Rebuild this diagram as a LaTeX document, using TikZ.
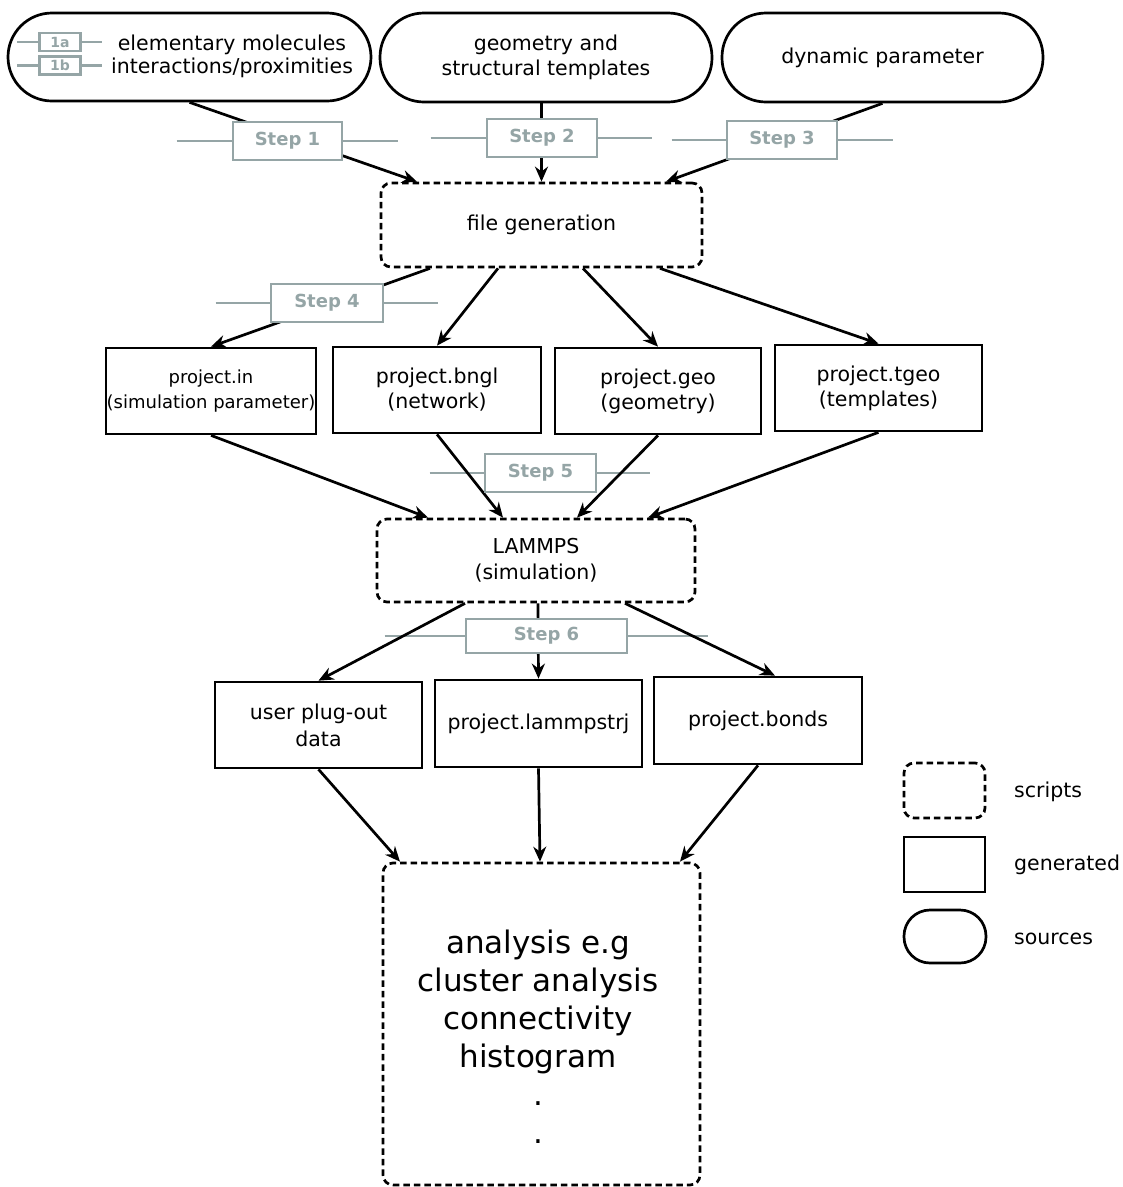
\documentclass[tikz,border=0pt]{standalone}
\usepackage{fontspec}
\setmainfont{DejaVu Sans}
\usetikzlibrary{arrows.meta,calc}
\definecolor{stepgray}{RGB}{149,165,166}
\pgfdeclarelayer{bglayer}
\pgfdeclarelayer{glines}
\pgfdeclarelayer{arrowlayer}
\pgfsetlayers{bglayer,glines,arrowlayer,main}
\begin{document}
\begin{tikzpicture}[x=1pt,y=-1pt,
  src/.style={draw,line width=2.7pt,inner sep=0pt,align=center,rounded corners=44pt,font=\fontsize{20.5}{24.5}\selectfont},
  gen/.style={draw,line width=2.7pt,inner sep=0pt,align=center,font=\fontsize{20.5}{25}\selectfont},
  scr/.style={draw,line width=2.7pt,dash pattern=on 6.5pt off 4pt,rounded corners=10pt,inner sep=0pt,align=center,font=\fontsize{20.5}{26}\selectfont},
  stepbox/.style={draw=stepgray,line width=2.6pt,fill=white,inner sep=0pt,text=stepgray,font=\bfseries\fontsize{18}{20}\selectfont},
  tagbox/.style={draw=stepgray,line width=2.4pt,fill=white,inner sep=0pt,text=stepgray,font=\bfseries\fontsize{14}{15}\selectfont,minimum width=41pt,minimum height=18pt},
  gl/.style={draw=stepgray,line width=2.6pt},
  arr/.style={-{Stealth[length=15pt,width=13pt]},line width=2.7pt},
  txt/.style={inner sep=0pt,align=center,font=\fontsize{20.5}{23}\selectfont},
  legtxt/.style={inner sep=0pt,anchor=west,font=\fontsize{20.5}{24}\selectfont}
]
\useasboundingbox (0,0) rectangle (1123,1187);
\begin{pgfonlayer}{bglayer}
\fill[white] (0,0) rectangle (1123,1187);
\end{pgfonlayer}

% sources
\node[src,minimum width=363pt,minimum height=88pt] (s1) at (189.5,57) {};
\node[txt] (s1t) at (232,56.5) {elementary molecules\\interactions/proximities};
\node[tagbox] (t1a) at (60,42) {1a};
\node[tagbox] (t1b) at (60,65.5) {1b};
\node[src,minimum width=332pt,minimum height=89pt] (s2) at (546,57.5) {geometry and\\structural templates};
\node[src,minimum width=321pt,minimum height=89pt] (s3) at (882.5,57.5) {dynamic parameter};

% scripts
\node[scr,minimum width=321pt,minimum height=84pt] (fg) at (541.5,225) {file generation};
\node[scr,minimum width=318pt,minimum height=83pt] (lmp) at (536,560.5) {LAMMPS\\(simulation)};
\node[scr,minimum width=317pt,minimum height=322pt] (ana) at (541.5,1024) {};
\node[inner sep=0pt,align=center,font=\fontsize{31}{38}\selectfont] (atext) at (538,1037) {analysis e.g\\cluster analysis\\connectivity\\histogram\\.\\.};

% generated
\node[gen,minimum width=210pt,minimum height=86pt,font=\fontsize{18}{25}\selectfont] (pin) at (211,391) {project.in\\(simulation parameter)};
\node[gen,minimum width=208pt,minimum height=86pt] (bngl) at (437,390) {project.bngl\\(network)};
\node[gen,minimum width=206pt,minimum height=86pt] (geo) at (658,391) {project.geo\\(geometry)};
\node[gen,minimum width=207pt,minimum height=86pt] (tgeo) at (878.5,388) {project.tgeo\\(templates)};
\node[gen,minimum width=207pt,minimum height=86pt,font=\fontsize{20.5}{27}\selectfont] (user) at (318.5,725) {user plug-out\\data};
\node[gen,minimum width=207pt,minimum height=87pt] (traj) at (538.5,723.5) {project.lammpstrj};
\node[gen,minimum width=208pt,minimum height=87pt] (bonds) at (758,720.5) {project.bonds};

% steps
\node[stepbox,minimum width=109pt,minimum height=38pt] (st1) at (287.5,141) {Step 1};
\node[stepbox,minimum width=110pt,minimum height=38pt] (st2) at (542,138) {Step 2};
\node[stepbox,minimum width=110pt,minimum height=38pt] (st3) at (782,140) {Step 3};
\node[stepbox,minimum width=112pt,minimum height=38pt] (st4) at (327,303) {Step 4};
\node[stepbox,minimum width=111pt,minimum height=38pt] (st5) at (540.5,473) {Step 5};
\node[stepbox,minimum width=161pt,minimum height=34pt] (st6) at (546.5,636) {Step 6};

% legend
\node[scr,minimum width=81pt,minimum height=55pt] (lsc) at (944.5,790.5) {};
\node[legtxt] (lsct) at (1014,792) {scripts};
\node[gen,minimum width=81pt,minimum height=55pt] (lgen) at (944.5,864.5) {};
\node[legtxt] (lgent) at (1014,865) {generated};
\node[src,rounded corners=26pt,minimum width=82pt,minimum height=53pt] (lsrc) at (945,936.5) {};
\node[legtxt] (lsrct) at (1014,939) {sources};

\begin{pgfonlayer}{glines}
\draw[gl] ($(t1a.west)+(-21,0)$) -- ($(t1a.east)+(20,0)$);
\draw[gl] ($(t1b.west)+(-21,0)$) -- ($(t1b.east)+(20,0)$);
\draw[gl] ($(st1.west)+(-55,0)$) -- ($(st1.east)+(55,0)$);
\draw[gl] ($(st2.west)+(-55,0)$) -- ($(st2.east)+(54,0)$);
\draw[gl] ($(st3.west)+(-54,0)$) -- ($(st3.east)+(55,0)$);
\draw[gl] ($(st4.west)+(-54,0)$) -- ($(st4.east)+(54,0)$);
\draw[gl] ($(st5.west)+(-54,0)$) -- ($(st5.east)+(53,0)$);
\draw[gl] ($(st6.west)+(-80,0)$) -- ($(st6.east)+(80,0)$);
\end{pgfonlayer}

\begin{pgfonlayer}{arrowlayer}
\draw[arr] (s1.south) -- ($(fg.north)+(-124.5,0)$);
\draw[arr] ($(s2.south)+(-4.5,0)$) -- (fg.north);
\draw[arr] (s3.south) -- ($(fg.north)+(124.5,0)$);

\draw[arr] ($(fg.south)+(-111.5,0)$) -- (pin.north);
\draw[arr] ($(fg.south)+(-43.5,0)$) -- (bngl.north);
\draw[arr] ($(fg.south)+(41.5,0)$) -- (geo.north);
\draw[arr] ($(fg.south)+(118.5,0)$) -- (tgeo.north);

\draw[arr] (pin.south) -- ($(lmp.north)+(-108,0)$);
\draw[arr] (bngl.south) -- ($(lmp.north)+(-33,0)$);
\draw[arr] (geo.south) -- ($(lmp.north)+(41,0)$);
\draw[arr] (tgeo.south) -- ($(lmp.north)+(112,0)$);

\draw[arr] ($(lmp.south)+(-71,0)$) -- (user.north);
\draw[arr] ($(lmp.south)+(2,0)$) -- (traj.north);
\draw[arr] ($(lmp.south)+(89,0)$) -- ($(bonds.north)+(17,0)$);

\draw[arr] (user.south) -- ($(ana.north)+(-141.5,0)$);
\draw[arr] (traj.south) -- ($(ana.north)+(-1.5,0)$);
\draw[arr] (bonds.south) -- ($(ana.north)+(138.5,0)$);
\end{pgfonlayer}
\end{tikzpicture}
\end{document}
